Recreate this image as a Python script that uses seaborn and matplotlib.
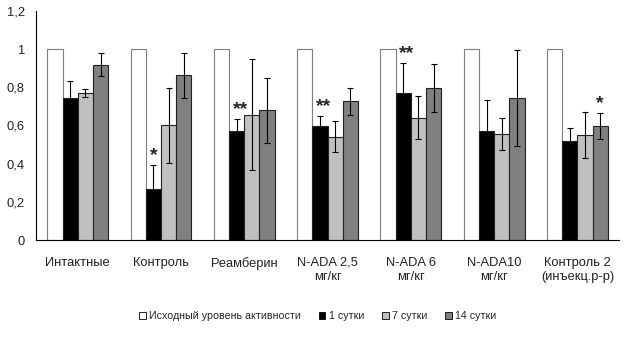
import matplotlib
matplotlib.use("Agg")
import matplotlib.pyplot as plt
from matplotlib.patches import Patch
import seaborn as sns
import pandas as pd
import numpy as np

categories = ["Интактные", "Контроль", "Реамберин", "N-ADA 2,5\nмг/кг",
              "N-ADA 6\nмг/кг", "N-ADA10\nмг/кг", "Контроль 2\n(инъекц.р-р)"]
series = ["Исходный уровень активности", "1 сутки", "7 сутки", "14 сутки"]

baseline = [1, 1, 1, 1, 1, 1, 1]
day1 = [0.743, 0.266, 0.571, 0.597, 0.768, 0.571, 0.521]
day7 = [0.771, 0.600, 0.656, 0.541, 0.641, 0.554, 0.550]
day14 = [0.919, 0.862, 0.679, 0.726, 0.797, 0.743, 0.599]

err_base = [0, 0, 0, 0, 0, 0, 0]
err_day1 = [0.09, 0.125, 0.065, 0.05, 0.16, 0.164, 0.068]
err_day7 = [0.022, 0.197, 0.29, 0.08, 0.113, 0.085, 0.12]
err_day14 = [0.06, 0.12, 0.17, 0.07, 0.125, 0.25, 0.068]

# significance marks: (category index, series index, text)
stars = [(1, 1, "*"), (2, 1, "**"), (3, 1, "**"), (4, 1, "**"), (6, 3, "*")]

colors = ["#ffffff", "#000000", "#c0c0c0", "#808080"]

values = [baseline, day1, day7, day14]
errors = [err_base, err_day1, err_day7, err_day14]

rows = []
for s, vals, errs in zip(series, values, errors):
    for c, v, e in zip(categories, vals, errs):
        rows.append({"cat": c, "series": s, "value": v, "err": e})
df = pd.DataFrame(rows)

sns.set_style("white")
plt.rcParams["font.family"] = ["Liberation Sans", "DejaVu Sans"]

fig = plt.figure(figsize=(6.33, 3.4), dpi=100)
ax = fig.add_axes([0.057, 0.294, 0.921, 0.674])

sns.barplot(data=df, x="cat", y="value", hue="series", order=categories,
            hue_order=series, palette=colors, width=0.73, errorbar=None,
            edgecolor="#222222", linewidth=0.8, ax=ax, legend=False, saturation=1)

n = len(categories)
for p in ax.patches[:n]:
    p.set_edgecolor("#7f7f7f")

for si in range(len(series)):
    patches = ax.patches[si * n:(si + 1) * n]
    for ci, p in enumerate(patches):
        e = errors[si][ci]
        if e <= 0:
            continue
        xc = p.get_x() + p.get_width() / 2
        ax.errorbar(xc, values[si][ci], yerr=e, fmt="none", ecolor="black",
                    elinewidth=0.8, capsize=2.2, capthick=0.8)

for ci, si, txt in stars:
    p = ax.patches[si * n + ci]
    xc = p.get_x() + p.get_width() / 2
    y = values[si][ci] + errors[si][ci] + 0.005
    if txt == "**":
        xc += p.get_width() * 0.25
    ax.text(xc, y, txt, ha="center", va="bottom", fontsize=14, fontweight="bold")

ax.set_xlim(-0.5, n - 0.5)
ax.set_ylim(0, 1.2)
ax.set_yticks(np.arange(0, 1.21, 0.2))
ax.set_yticklabels(["0", "0,2", "0,4", "0,6", "0,8", "1", "1,2"], fontsize=9.3,
                   color="#222222")
ax.set_xticks(range(n))
ax.set_xticklabels(categories, fontsize=9.3, color="#222222", linespacing=1.2)
ax.tick_params(axis="x", which="major", length=0, pad=12)
ax.set_xticks(np.arange(0.5, n, 1), minor=True)
ax.tick_params(axis="x", which="minor", length=4, direction="out", width=0.8, color="black")
ax.tick_params(axis="y", length=4, direction="out", width=0.8, color="black", pad=4)
ax.set_xlabel("")
ax.set_ylabel("")
sns.despine(ax=ax)
for side in ("left", "bottom"):
    ax.spines[side].set_color("black")
    ax.spines[side].set_linewidth(0.8)

handles = [Patch(facecolor=c, edgecolor="black", linewidth=0.6) for c in colors]
fig.legend(handles, series, loc="center", bbox_to_anchor=(0.502, 0.07), ncol=4,
           frameon=False, fontsize=7.7, handlelength=0.6, handleheight=0.6,
           handletextpad=0.3, columnspacing=1.7)

fig.savefig("out.png", dpi=100)
